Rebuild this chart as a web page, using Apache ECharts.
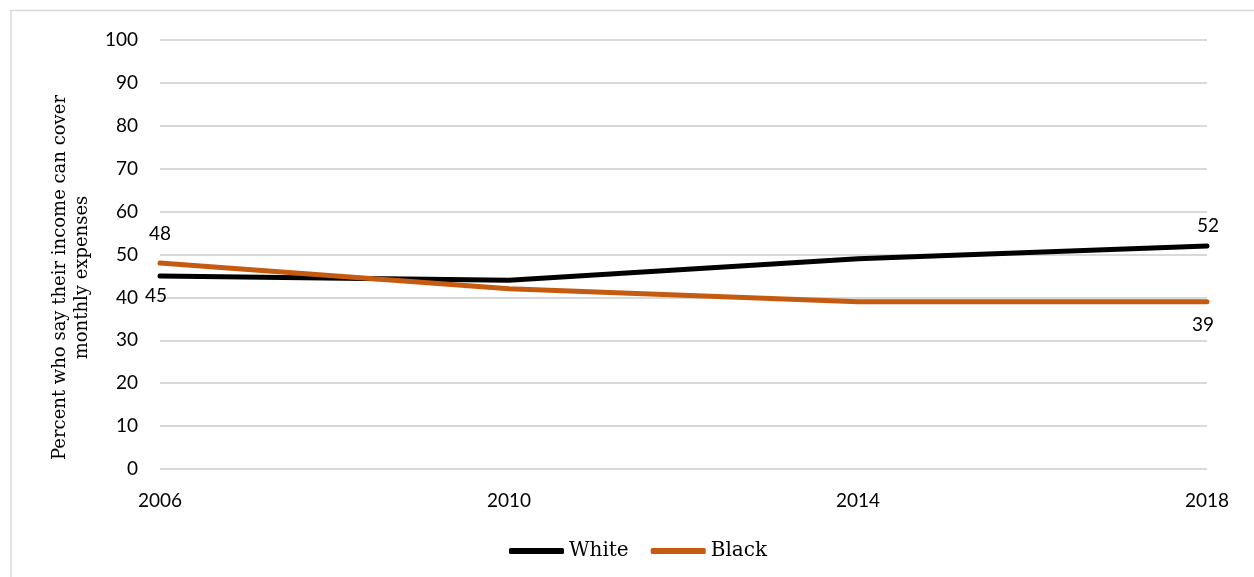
<!DOCTYPE html>
<html>
<head>
<meta charset="utf-8">
<script src="https://cdn.jsdelivr.net/npm/echarts@6/dist/echarts.min.js"></script>
<style>
  html, body { margin: 0; padding: 0; background: #fff; }
  #chart { width: 1254px; height: 577px; }
</style>
</head>
<body>
<div id="chart"></div>
<script>
// Survey years and share of respondents whose income covers monthly expenses
const years = ['2006', '2010', '2014', '2018'];
const whiteValues = [45, 44, 49, 52];
const blackValues = [48, 42, 39, 39];
const yTicks = { min: 0, max: 100, interval: 10 };

const sansFont = 'Lato, "Open Sans", sans-serif';
const slabFont = '"DejaVu Serif", serif';

// Only the first and last points carry a value label
function withEndLabels(values, firstLabel, lastLabel) {
  return values.map((v, i) => {
    if (i === 0) return { value: v, label: Object.assign({ show: true }, firstLabel) };
    if (i === values.length - 1) return { value: v, label: Object.assign({ show: true }, lastLabel) };
    return { value: v, label: { show: false } };
  });
}

const chart = echarts.init(document.getElementById('chart'));
chart.setOption({
  animation: false,
  backgroundColor: '#ffffff',
  graphic: [
    { type: 'line', shape: { x1: 11, y1: 10.5, x2: 1254, y2: 10.5 }, style: { stroke: '#d9d9d9', lineWidth: 1.5 } },
    { type: 'line', shape: { x1: 11, y1: 10, x2: 11, y2: 577 }, style: { stroke: '#d9d9d9', lineWidth: 1.5 } }
  ],
  grid: { left: 160, right: 47, top: 40, bottom: 108 },
  legend: {
    bottom: 11,
    left: 504,
    icon: 'roundRect',
    itemWidth: 55,
    itemHeight: 6,
    itemGap: 22,
    textStyle: { fontFamily: slabFont, fontSize: 20, color: '#000' },
    data: ['White', 'Black']
  },
  xAxis: {
    type: 'category',
    data: years,
    boundaryGap: false,
    axisLine: { show: false },
    axisTick: { show: false },
    axisLabel: { margin: 22, fontFamily: sansFont, fontSize: 19, color: '#000' },
    splitLine: { show: false }
  },
  yAxis: {
    type: 'value',
    min: yTicks.min,
    max: yTicks.max,
    interval: yTicks.interval,
    name: 'Percent who say their income can cover\nmonthly expenses',
    nameLocation: 'middle',
    nameGap: 67,
    nameTextStyle: { fontFamily: slabFont, fontSize: 18, color: '#000', lineHeight: 22, padding: [0, 46, 0, 0] },
    axisLine: { show: false },
    axisTick: { show: false },
    axisLabel: { margin: 22, fontFamily: sansFont, fontSize: 19, color: '#000' },
    splitLine: { lineStyle: { color: '#d9d9d9', width: 2 } }
  },
  series: [
    {
      name: 'White',
      type: 'line',
      data: withEndLabels(whiteValues,
        { position: 'bottom', distance: 10, offset: [-4, 0] },
        { position: 'top', distance: 10, offset: [1, 0] }),
      symbol: 'circle',
      symbolSize: 1,
      showSymbol: true,
      lineStyle: { color: '#000000', width: 5, cap: 'round' },
      itemStyle: { color: '#000000' },
      label: { fontFamily: sansFont, fontSize: 19, color: '#000' }
    },
    {
      name: 'Black',
      type: 'line',
      data: withEndLabels(blackValues,
        { position: 'top', distance: 19 },
        { position: 'bottom', distance: 13, offset: [-4, 0] }),
      symbol: 'circle',
      symbolSize: 1,
      showSymbol: true,
      lineStyle: { color: '#C55A11', width: 5, cap: 'round' },
      itemStyle: { color: '#C55A11' },
      label: { fontFamily: sansFont, fontSize: 19, color: '#000' }
    }
  ]
});
</script>
</body>
</html>
